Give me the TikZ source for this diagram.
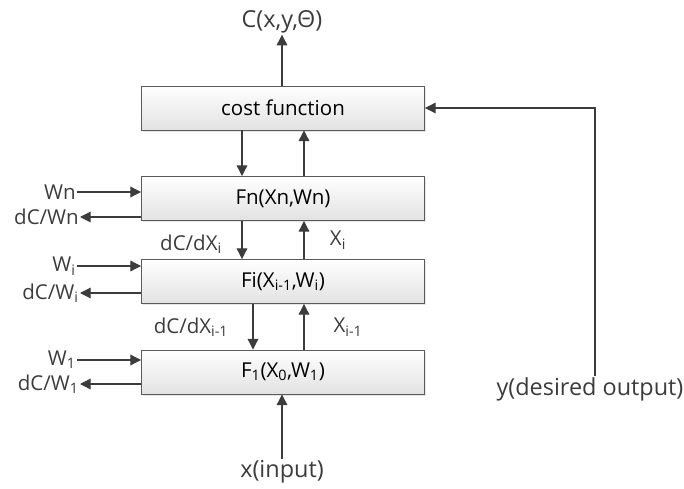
\documentclass[tikz,border=0pt]{standalone}
\usepackage{fontspec}
\setmainfont{Open Sans}
\usetikzlibrary{arrows.meta,shadows}
\definecolor{ink}{HTML}{3C3C3C}
\definecolor{edge}{HTML}{5A5A5A}
\definecolor{shade}{HTML}{E2E2E2}
\newcommand{\sub}[1]{\textsubscript{#1}}

\begin{document}
\begin{tikzpicture}[x=0.03cm,y=-0.03cm,
  font=\fontsize{17.5}{20}\selectfont,
  fbox/.style={draw=edge,line width=0.8pt,top color=white,bottom color=shade,minimum width=8.49cm,minimum height=1.32cm,inner sep=0pt,drop shadow={shadow xshift=1.5pt,shadow yshift=-1.5pt,opacity=0.2}},
  arr/.style={-{Triangle[length=3.2mm,width=3.2mm]},line width=1pt,color=ink},
  lab/.style={text=ink,inner sep=1pt},
  big/.style={lab,font=\fontsize{20}{24}\selectfont}]
  \useasboundingbox (0,0) rectangle (684,489);
  % layer boxes
  \node[fbox] (cost) at (283,108) {cost function};
  \node[fbox] (fn) at (283,198.5) {Fn(Xn,Wn)};
  \node[fbox] (fi) at (283,281.5) {Fi(X\sub{i-1},W\sub{i})};
  \node[fbox] (f1) at (283,372) {F\sub{1}(X\sub{0},W\sub{1})};
  % outside labels
  \node[big] (out) at (282,22) {C(x,y,Θ)};
  \node[big] (in) at (282,472) {x(input)};
  \node[big] (des) at (590,389) {y(desired output)};
  \node[lab,anchor=east] (wn) at (77,192) {Wn};
  \node[lab,anchor=east] (dwn) at (80,217) {dC/Wn};
  \node[lab,anchor=east] (wi) at (77,266) {W\sub{i}};
  \node[lab,anchor=east] (dwi) at (80,293) {dC/W\sub{i}};
  \node[lab,anchor=east] (w1) at (77,360) {W\sub{1}};
  \node[lab,anchor=east] (dw1) at (80,384) {dC/W\sub{1}};
  \node[lab] (gn) at (191,244) {dC/dX\sub{i}};
  \node[lab] (xn) at (338,240) {X\sub{i}};
  \node[lab] (gi) at (191,327) {dC/dX\sub{i-1}};
  \node[lab] (xi) at (348,327) {X\sub{i-1}};
  \coordinate (dn) at (242,0);
  \coordinate (dnb) at (253,0);
  \coordinate (up) at (304,0);
  \coordinate (yx) at (595,0);
  % forward / backward
  \draw[arr] (cost.north -| out) -- (out);
  \draw[arr] (in) -- (f1.south -| in);
  \draw[arr] (des.north -| yx) |- (cost.east);
  \draw[arr] (cost.south -| dn) -- (fn.north -| dn);
  \draw[arr] (fn.south -| dn) -- (fi.north -| dn);
  \draw[arr] (fi.south -| dnb) -- (f1.north -| dnb);
  \draw[arr] (fn.north -| up) -- (cost.south -| up);
  \draw[arr] (fi.north -| up) -- (fn.south -| up);
  \draw[arr] (f1.north -| up) -- (fi.south -| up);
  % weights and gradients
  \draw[arr] (wn) -- (fn.west |- wn);
  \draw[arr] (fn.west |- dwn) -- (dwn);
  \draw[arr] (wi) -- (fi.west |- wi);
  \draw[arr] (fi.west |- dwi) -- (dwi);
  \draw[arr] (w1) -- (f1.west |- w1);
  \draw[arr] (f1.west |- dw1) -- (dw1);
\end{tikzpicture}
\end{document}
